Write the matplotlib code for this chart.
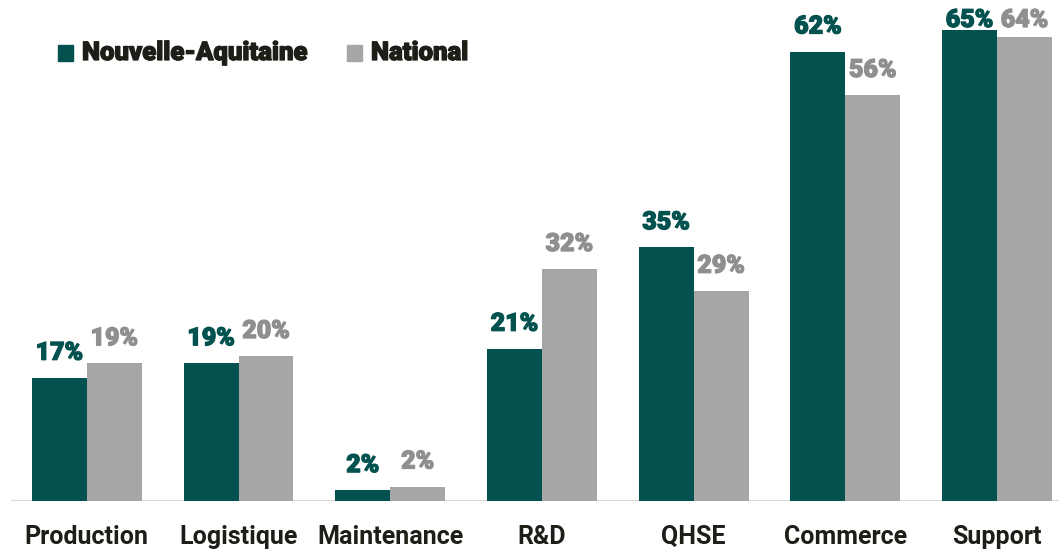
import matplotlib
matplotlib.use("Agg")
import matplotlib.pyplot as plt
import numpy as np
from matplotlib.patches import Rectangle
from matplotlib.transforms import blended_transform_factory
import matplotlib.patheffects as pe

categories = ["Production", "Logistique", "Maintenance", "R&D", "QHSE", "Commerce", "Support"]
nouvelle_aquitaine = [17, 19, 1.5, 21, 35, 62, 65]
national = [19, 20, 2, 32, 29, 56, 64]
na_labels = ["17%", "19%", "2%", "21%", "35%", "62%", "65%"]
nat_labels = ["19%", "20%", "2%", "32%", "29%", "56%", "64%"]
series_names = ["Nouvelle-Aquitaine", "National"]

TEAL = "#03524F"
GREY = "#A6A6A6"
GREY_TXT = "#8F8F8F"
DARK = "#1E1D17"

W, H = 1059, 551
PX_PER = 7.25
fig = plt.figure(figsize=(W / 100, H / 100), dpi=100)
ax = fig.add_axes([11 / W, 50 / H, (W - 11) / W, (H - 50) / H])

x = np.arange(len(categories))
bw = 0.362
ax.bar(x - bw / 2, nouvelle_aquitaine, width=bw, color=TEAL, linewidth=0)
ax.bar(x + bw / 2, national, width=bw, color=GREY, linewidth=0)

ax.set_xlim(-0.5, -0.5 + (W - 11) / 151.7)
ax.set_ylim(0, 501 / PX_PER)
for s in ax.spines.values():
    s.set_visible(False)
ax.axhline(0, color="#D9D9D9", linewidth=1.5, zorder=0)
ax.set_yticks([])
ax.set_xticks([])

tr = blended_transform_factory(ax.transData, fig.transFigure)
for xi, c in zip(x, categories):
    ax.text(xi, (H - 544) / H, c, transform=tr, ha="center", va="baseline",
            fontsize=18, fontweight="bold", color=DARK, family="Roboto")


def heavy(color, lw=0.9):
    return [pe.withStroke(linewidth=lw, foreground=color)]


gap = 18 / PX_PER
top_lim = (501 - 27) / PX_PER
LBL = dict(ha="center", va="baseline", fontsize=18, fontweight=900, family="Roboto")
for xi, v, lab in zip(x, nouvelle_aquitaine, na_labels):
    ax.text(xi - bw / 2, min(v + gap, top_lim), lab, color=TEAL,
            path_effects=heavy(TEAL), **LBL)
for xi, v, lab in zip(x, national, nat_labels):
    ax.text(xi + bw / 2, min(v + gap, top_lim), lab, color=GREY_TXT,
            path_effects=heavy(GREY_TXT), **LBL)

# legend
fig.patches.append(Rectangle((58 / W, 1 - 61 / H), 15 / W, 16 / H, color=TEAL,
                             transform=fig.transFigure, figure=fig))
fig.text(82 / W, 1 - 60 / H, series_names[0], fontsize=18.5, fontweight=900,
         color=DARK, va="baseline", family="Roboto", path_effects=heavy(DARK))
fig.patches.append(Rectangle((347 / W, 1 - 61 / H), 15 / W, 16 / H, color=GREY,
                             transform=fig.transFigure, figure=fig))
fig.text(371 / W, 1 - 60 / H, series_names[1], fontsize=18.5, fontweight=900,
         color=DARK, va="baseline", family="Roboto", path_effects=heavy(DARK))

fig.savefig("out.png", dpi=100, facecolor="white")
